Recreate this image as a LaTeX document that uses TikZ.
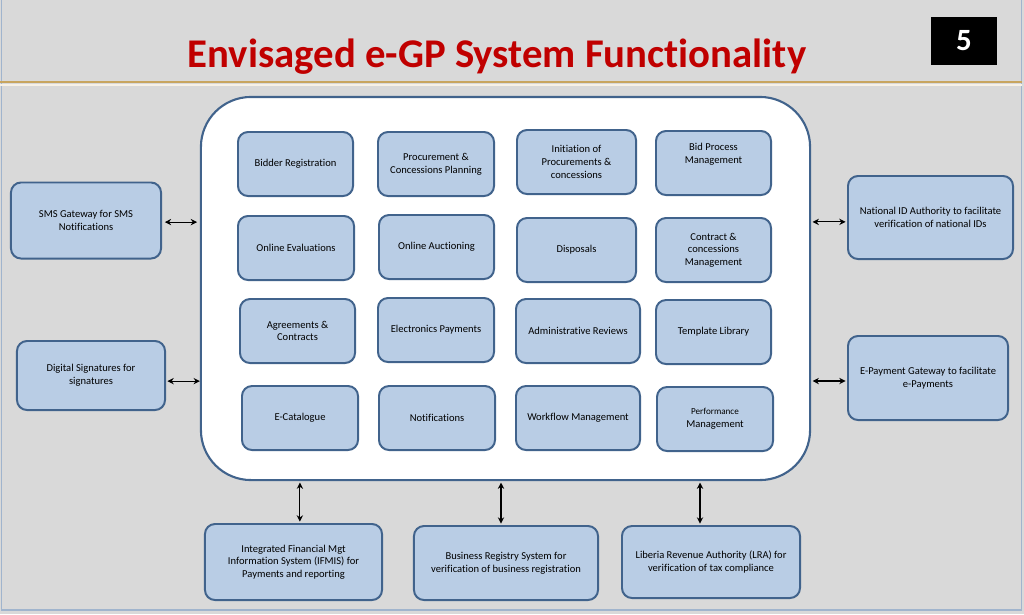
\documentclass[tikz,border=0pt]{standalone}
\usepackage{fontspec}
\setmainfont[Ligatures={NoCommon}]{Carlito}
\usetikzlibrary{arrows.meta}
\definecolor{slidegray}{RGB}{217,217,217}
\definecolor{boxblue}{RGB}{185,205,229}
\definecolor{edgeblue}{RGB}{65,99,140}
\definecolor{framegray}{RGB}{160,180,205}
\definecolor{rulegold}{RGB}{200,165,95}
\definecolor{titlered}{RGB}{192,0,0}
\tikzset{
  modbox/.style={draw=edgeblue, fill=boxblue, line width=1.4pt, rounded corners=0.25cm,
    minimum height=1.6cm, minimum width=#1, align=center, font=\fontsize{7.5}{9}\selectfont},
  modbox/.default=2.9cm,
  extbox/.style={modbox=#1, minimum height=1.9cm},
  link/.style={{Stealth[length=4.5pt,width=4.5pt]}-{Stealth[length=4.5pt,width=4.5pt]}, line width=0.8pt}
}
\begin{document}
\begin{tikzpicture}[x=0.025cm,y=-0.025cm]
% slide background and frame
\fill[slidegray] (0,0) rectangle (1024,614);
\useasboundingbox (0,0) rectangle (1024,614);
\draw[framegray, line width=1pt] (1.5,0) -- (1.5,610) -- (1021.5,610) -- (1021.5,0);
\draw[rulegold, line width=2pt] (0,82) -- (1022,82);
\draw[white!85!rulegold, line width=0.8pt] (0,85) -- (1022,85);

% title and page number
\node[anchor=base, text=titlered, font=\fontsize{29}{34}\selectfont\bfseries] (title) at (497,67) {Envisaged e-GP System Functionality};
\node[fill=black, text=white, minimum width=1.65cm, minimum height=1.2cm, font=\fontsize{22}{26}\selectfont\bfseries] (pageno) at (964,41) {5};

% central e-GP system
\node[draw=edgeblue, fill=white, line width=1.5pt, rounded corners=1.25cm, minimum width=15.225cm, minimum height=9.575cm] (egp) at (505.5,288.5) {};

% row 1
\node[modbox=2.875cm] (bidder) at (295.5,164) {Bidder Registration};
\node[modbox] (planning) at (436,164) {Procurement \&\\Concessions Planning};
\node[modbox=2.975cm] (initiation) at (576.5,162) {Initiation of\\Procurements \&\\concessions};
\node[modbox=2.875cm] (bidproc) at (713.5,163) {Bid Process\\Management\\[5pt]~};
% row 2
\node[modbox] (evaluation) at (296,248) {Online Evaluations};
\node[modbox=2.875cm] (auction) at (436.5,247) {Online Auctioning};
\node[modbox=2.975cm] (disposals) at (576.5,250) {Disposals};
\node[modbox=2.875cm] (contract) at (713.5,250) {Contract \&\\concessions\\Management};
% row 3
\node[modbox=2.875cm] (agreements) at (297.5,331) {Agreements \&\\Contracts};
\node[modbox] (payments) at (436,330) {Electronics Payments};
\node[modbox=3.1cm] (reviews) at (578,331) {Administrative Reviews};
\node[modbox=2.875cm] (template) at (713.5,332) {Template Library};
% row 4
\node[modbox] (catalogue) at (300,418) {E-Catalogue};
\node[modbox] (notify) at (437,418) {Notifications};
\node[modbox=3.1cm] (workflow) at (578,418) {Workflow Management};
\node[modbox] (performance) at (715,419) {{\fontsize{6.5}{8}\selectfont Performance}\\Management};

% external systems
\node[extbox=3.75cm] (sms) at (86,220.5) {SMS Gateway for SMS\\Notifications};
\node[extbox=3.7cm, minimum height=1.725cm] (digsig) at (91,375.5) {Digital Signatures for\\signatures};
\node[extbox=4.125cm, minimum height=2.075cm] (natid) at (930.5,217.5) {National ID Authority to facilitate\\verification of national IDs};
\node[extbox=4cm, minimum height=2.1cm] (epaygw) at (928,378) {E-Payment Gateway to facilitate\\e-Payments};
\node[extbox=4.425cm] (ifmis) at (293.5,562) {Integrated Financial Mgt\\Information System (IFMIS) for\\Payments and reporting};
\node[extbox=4.6cm, minimum height=1.85cm] (bizreg) at (506,563) {Business Registry System for\\verification of business registration};
\node[extbox=4.45cm, minimum height=1.8cm] (lra) at (711,562) {Liberia Revenue Authority (LRA) for\\verification of tax compliance};

% links
\draw[link, shorten <=2pt, shorten >=2pt] ([yshift=-0.04cm]sms.east) -- ([yshift=-0.04cm]sms.east -| egp.west);
\draw[link, shorten <=1pt, shorten >=0pt] ([yshift=-0.14cm]digsig.east) -- ([yshift=-0.14cm]digsig.east -| egp.west);
\draw[link, shorten <=1pt, shorten >=1pt] ([yshift=-0.11cm]natid.west) -- ([yshift=-0.11cm]natid.west -| egp.east);
\draw[link, shorten <=1pt, shorten >=1pt] ([yshift=-0.075cm]epaygw.west) -- ([yshift=-0.075cm]epaygw.west -| egp.east);
\draw[link, shorten <=1pt, shorten >=1pt] ([xshift=0.16cm]ifmis.north) -- ([xshift=0.16cm]ifmis.north |- egp.south);
\draw[link, shorten <=1pt, shorten >=1pt] ([xshift=-0.125cm]bizreg.north) -- ([xshift=-0.125cm]bizreg.north |- egp.south);
\draw[link, shorten <=1pt, shorten >=1pt] ([xshift=-0.275cm]lra.north) -- ([xshift=-0.275cm]lra.north |- egp.south);
\end{tikzpicture}
\end{document}
